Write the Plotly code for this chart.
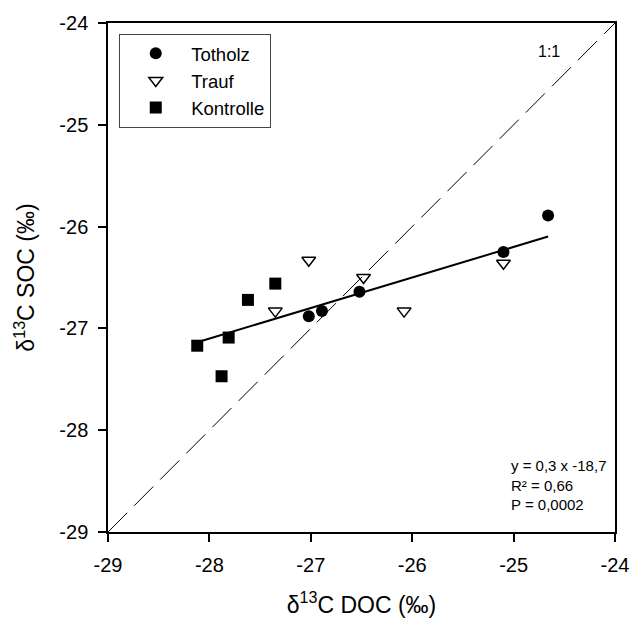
import plotly.graph_objects as go

# --- data ---
x_totholz = [-27.02, -26.89, -26.52, -25.10, -24.66]
y_totholz = [-26.88, -26.83, -26.64, -26.25, -25.89]

x_trauf = [-27.35, -27.02, -26.48, -26.08, -25.10]
y_trauf = [-26.83, -26.33, -26.50, -26.83, -26.36]

x_kontrolle = [-28.12, -27.81, -27.88, -27.62, -27.35]
y_kontrolle = [-27.17, -27.09, -27.47, -26.72, -26.56]

slope, intercept = 0.3, -18.7
axis_range = [-29, -24]
tick_vals = [-29, -28, -27, -26, -25, -24]
tick_text = ["-29", "-28", "-27", "-26", "-25", "-24"]
stats_text = ["y = 0,3 x -18,7", "R² = 0,66", "P = 0,0002"]

FONT = "Liberation Sans, Arial, sans-serif"
NB = "\u00a0\u00a0\u00a0"

fig = go.Figure()

# 1:1 line
fig.add_trace(go.Scatter(x=axis_range, y=axis_range, mode="lines",
                         line=dict(color="black", width=1, dash="27px,10px"),
                         showlegend=False, hoverinfo="skip"))

# regression line over the data range
all_x = x_totholz + x_trauf + x_kontrolle
x_fit = [min(all_x), max(all_x)]
y_fit = [slope * v + intercept for v in x_fit]
fig.add_trace(go.Scatter(x=x_fit, y=y_fit, mode="lines",
                         line=dict(color="black", width=2),
                         showlegend=False, hoverinfo="skip"))

fig.add_trace(go.Scatter(x=x_totholz, y=y_totholz, mode="markers", name=NB + "Totholz",
                         marker=dict(symbol="circle", size=12, color="black")))
fig.add_trace(go.Scatter(x=x_trauf, y=y_trauf, mode="markers", name=NB + "Trauf",
                         marker=dict(symbol="triangle-down-open", size=12, color="black",
                                     line=dict(width=1.5, color="black"))))
fig.add_trace(go.Scatter(x=x_kontrolle, y=y_kontrolle, mode="markers", name=NB + "Kontrolle",
                         marker=dict(symbol="square", size=12, color="black")))

axis_common = dict(range=axis_range, tickvals=tick_vals, ticktext=tick_text,
                   showline=True, mirror=True, linecolor="black", linewidth=1.5,
                   ticks="outside", ticklen=8, tickwidth=1.5, tickcolor="black",
                   showgrid=False, zeroline=False, ticklabeloverflow="allow",
                   ticklabelstandoff=6,
                   tickfont=dict(family=FONT, size=20, color="black"))

fig.update_xaxes(**axis_common,
                 title=dict(text="δ<sup>13</sup>C DOC (‰)",
                            font=dict(family=FONT, size=23, color="black"), standoff=22))
fig.update_yaxes(**axis_common,
                 title=dict(text="δ<sup>13</sup>C SOC (‰)",
                            font=dict(family=FONT, size=23, color="black"), standoff=18))

fig.add_annotation(xref="paper", yref="paper", x=0.79, y=0.0928,
                   xanchor="left", yanchor="middle", align="left", showarrow=False,
                   text="<br>".join(stats_text),
                   font=dict(family=FONT, size=15, color="black"))
fig.add_annotation(xref="paper", yref="paper", x=0.896, y=0.944,
                   xanchor="right", yanchor="middle", showarrow=False,
                   text="1:1", font=dict(family=FONT, size=16, color="black"))

fig.update_layout(
    width=641, height=626, autosize=False,
    margin=dict(l=108, r=14, t=21, b=88),
    paper_bgcolor="white", plot_bgcolor="white",
    font=dict(family=FONT, color="black"),
    legend=dict(x=0.0212, y=0.9787, xanchor="left", yanchor="top",
                bordercolor="#444", borderwidth=1, bgcolor="white",
                font=dict(family=FONT, size=18.5, color="black"),
                indentation=16),
)

fig.write_html("out.html")
